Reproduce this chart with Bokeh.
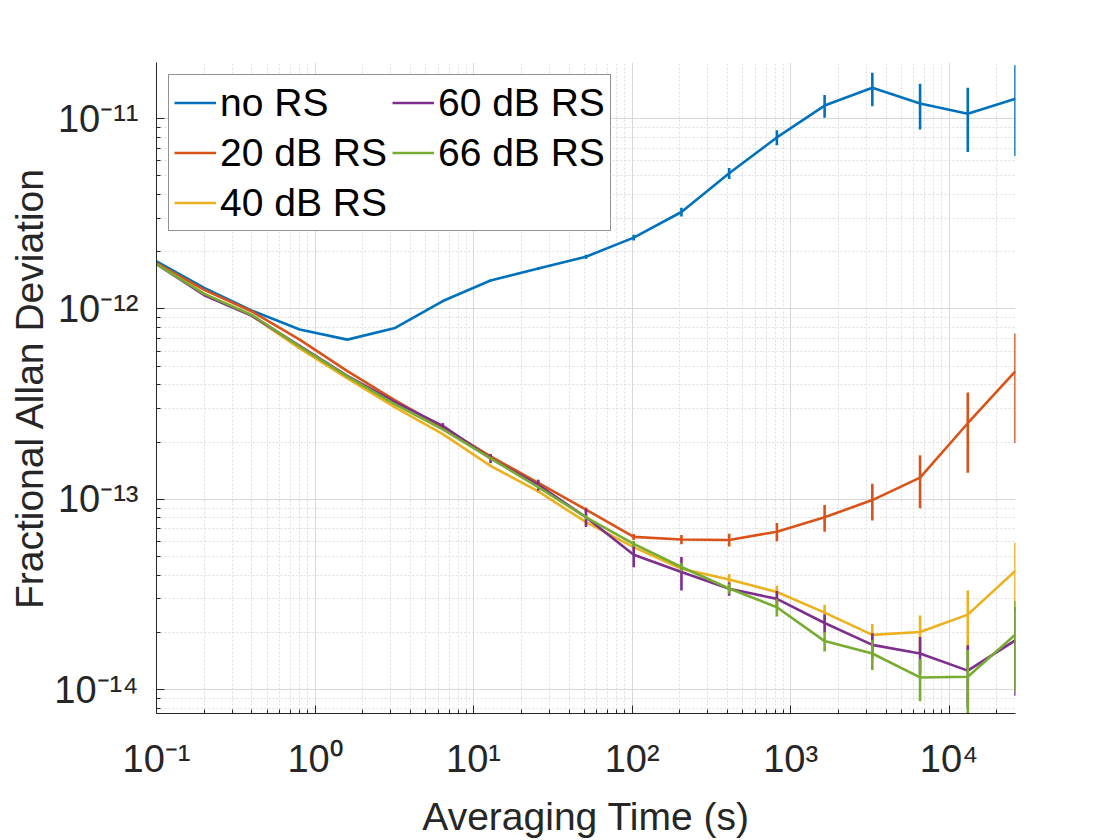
from bokeh.plotting import figure
from bokeh.models import (ColumnDataSource, FixedTicker, Legend, LegendItem,
                          CustomJSTickFormatter, Range1d)
from bokeh.embed import file_html
from bokeh.resources import INLINE

# ---------------- data ----------------
tau = [0.1, 0.2, 0.4, 0.8, 1.6, 3.2, 6.4, 12.8, 25.6, 51.2, 102.4, 204.8,
       409.6, 819.2, 1638.4, 3276.8, 6553.6, 13107.2, 26214.4]

adev_no_rs = [1.78e-12, 1.29e-12, 9.8e-13, 7.8e-13, 6.9e-13, 7.95e-13, 1.10e-12, 1.41e-12,
              1.63e-12, 1.88e-12, 2.37e-12, 3.23e-12, 5.16e-12, 7.96e-12, 1.17e-11,
              1.45e-11, 1.20e-11, 1.06e-11, 1.27e-11]
adev_20db = [1.74e-12, 1.26e-12, 9.7e-13, 6.9e-13, 4.71e-13, 3.31e-13, 2.39e-13, 1.68e-13,
             1.22e-13, 8.83e-14, 6.35e-14, 6.15e-14, 6.12e-14, 6.76e-14, 8.05e-14,
             9.91e-14, 1.30e-13, 2.51e-13, 4.71e-13]
adev_40db = [1.72e-12, 1.20e-12, 9.2e-13, 6.2e-13, 4.32e-13, 3.04e-13, 2.20e-13, 1.50e-13,
             1.10e-13, 7.59e-14, 5.61e-14, 4.32e-14, 3.79e-14, 3.26e-14, 2.54e-14,
             1.94e-14, 2.01e-14, 2.48e-14, 4.22e-14]
adev_60db = [1.72e-12, 1.18e-12, 9.2e-13, 6.4e-13, 4.45e-13, 3.24e-13, 2.43e-13, 1.64e-13,
             1.19e-13, 8.05e-14, 5.11e-14, 4.15e-14, 3.39e-14, 3.00e-14, 2.24e-14,
             1.72e-14, 1.55e-14, 1.26e-14, 1.82e-14]
adev_66db = [1.72e-12, 1.20e-12, 9.3e-13, 6.35e-13, 4.42e-13, 3.15e-13, 2.33e-13, 1.64e-13,
             1.16e-13, 8.05e-14, 5.83e-14, 4.41e-14, 3.40e-14, 2.71e-14, 1.80e-14,
             1.55e-14, 1.16e-14, 1.17e-14, 1.95e-14]

# relative 1-sigma error bar sizes (fraction of value)
err_no_rs = [0.001, 0.002, 0.002, 0.003, 0.004, 0.006, 0.008, 0.012, 0.017, 0.025, 0.035,
             0.054, 0.066, 0.091, 0.137, 0.20, 0.27, 0.37, 0.50]
err_20db = [0.001, 0.002, 0.002, 0.003, 0.004, 0.006, 0.009, 0.013, 0.019, 0.026, 0.036,
            0.056, 0.076, 0.11, 0.16, 0.22, 0.31, 0.45, 0.58]
err_40db = [0.001, 0.002, 0.002, 0.003, 0.004, 0.006, 0.009, 0.013, 0.019, 0.025, 0.04,
            0.05, 0.07, 0.08, 0.10, 0.14, 0.22, 0.34, 0.40]
err_60db = [0.001, 0.002, 0.003, 0.005, 0.008, 0.015, 0.035, 0.055, 0.066, 0.11, 0.14,
            0.20, 0.08, 0.10, 0.11, 0.15, 0.22, 0.36, 0.49]
err_66db = [0.001, 0.002, 0.002, 0.003, 0.004, 0.006, 0.009, 0.013, 0.019, 0.026, 0.035,
            0.05, 0.06, 0.105, 0.117, 0.18, 0.25, 0.38, 0.50]

series_names = ["no RS", "20 dB RS", "40 dB RS", "60 dB RS", "66 dB RS"]
series_values = [adev_no_rs, adev_20db, adev_40db, adev_60db, adev_66db]
series_errors = [err_no_rs, err_20db, err_40db, err_60db, err_66db]
series_colors = ["#0072BD", "#D95319", "#EDB120", "#7E2F8E", "#77AC30"]

x_tick_exponents = [-1, 0, 1, 2, 3, 4]
y_tick_exponents = [-14, -13, -12, -11]
y_minor_exponents = [-15, -14, -13, -12, -11]

x_label = "Averaging Time (s)"
y_label = "Fractional Allan Deviation"

x_limits = (0.1, 26214.4)
y_limits = (7.5e-15, 1.97e-11)

# ---------------- style ----------------
FONT = "Liberation Sans"
TXT = "#262626"
LW = 2.6
W, H = 1120, 840
ML, MR, MT, MB = 156, 105, 62, 124

p = figure(width=W, height=H,
           x_axis_type="log", y_axis_type="log",
           x_range=Range1d(*x_limits), y_range=Range1d(*y_limits),
           output_backend="svg", toolbar_location=None,
           min_border_left=ML, min_border_right=MR,
           min_border_top=MT, min_border_bottom=MB)
p.background_fill_color = "white"
p.border_fill_color = "white"
p.outline_line_color = None

# ticks
xt = [10.0 ** e for e in x_tick_exponents]
xm = [m * 10.0 ** e for e in x_tick_exponents for m in range(2, 10)
      if x_limits[0] <= m * 10.0 ** e <= x_limits[1]]
yt = [10.0 ** e for e in y_tick_exponents]
ym = [m * 10.0 ** e for e in y_minor_exponents for m in range(2, 10)
      if y_limits[0] <= m * 10.0 ** e <= y_limits[1]]
xticker = FixedTicker(ticks=xt, minor_ticks=xm)
yticker = FixedTicker(ticks=yt, minor_ticks=ym)
p.xaxis.ticker = xticker
p.yaxis.ticker = yticker
p.xgrid.ticker = xticker
p.ygrid.ticker = yticker

pow10_formatter = CustomJSTickFormatter(code="""
const sup = {'-': '\\u207B', '0': '\\u2070', '1': '\\u00B9', '2': '\\u00B2', '3': '\\u00B3',
             '4': '\\u2074', '5': '\\u2075', '6': '\\u2076', '7': '\\u2077', '8': '\\u2078',
             '9': '\\u2079'};
const e = Math.round(Math.log10(tick));
return '10' + String(e).split('').map(c => sup[c]).join('');
""")

for ax in (p.xaxis, p.yaxis):
    ax.formatter = pow10_formatter
    ax.major_label_text_font = FONT
    ax.major_label_text_font_size = "38px"
    ax.major_label_text_color = TXT
    ax.axis_line_color = TXT
    ax.axis_line_width = 1
    ax.major_tick_line_color = TXT
    ax.minor_tick_line_color = TXT
    ax.major_tick_in = 8
    ax.major_tick_out = 0
    ax.minor_tick_in = 4
    ax.minor_tick_out = 0
    ax.axis_label_text_font = FONT
    ax.axis_label_text_font_size = "39px"
    ax.axis_label_text_font_style = "normal"
    ax.axis_label_text_color = TXT

p.xaxis.major_label_standoff = 24
p.yaxis.major_label_standoff = 18
p.xaxis.axis_label = x_label
p.yaxis.axis_label = y_label
p.xaxis.axis_label_standoff = 12
p.yaxis.axis_label_standoff = 0

for g in (p.xgrid, p.ygrid):
    g.grid_line_color = "#d8d8d8"
    g.grid_line_width = 1
    g.minor_grid_line_color = "#dedede"
    g.minor_grid_line_dash = "2 2"
    g.minor_grid_line_width = 1

# ---------------- data renderers ----------------
legend_items = []
for name, vals, errs, col in zip(series_names, series_values, series_errors, series_colors):
    lo = [v * (1 - e) for v, e in zip(vals, errs)]
    hi = [v * (1 + e) for v, e in zip(vals, errs)]
    src = ColumnDataSource(dict(x=tau, y=vals, lo=lo, hi=hi))
    p.segment(x0="x", y0="lo", x1="x", y1="hi", source=src, line_color=col, line_width=LW)
    lr = p.line("x", "y", source=src, line_color=col, line_width=LW)
    empty = ColumnDataSource(dict(x=[], y=[]))
    mr = p.scatter("x", "y", source=empty, marker="dash", angle=1.5707963, size=10,
                   line_color=col, line_width=LW)
    legend_items.append(LegendItem(label=name, renderers=[lr, mr]))

legend = Legend(items=legend_items, location="top_left", nrows=3,
                label_text_font=FONT, label_text_font_size="39px", label_text_color="black",
                glyph_width=42, glyph_height=45, label_standoff=4, padding=5, spacing=5,
                margin=12, border_line_color=TXT, border_line_width=1,
                background_fill_color="white", background_fill_alpha=1.0)
p.add_layout(legend)

open("out.html", "w").write(file_html(p, INLINE))
